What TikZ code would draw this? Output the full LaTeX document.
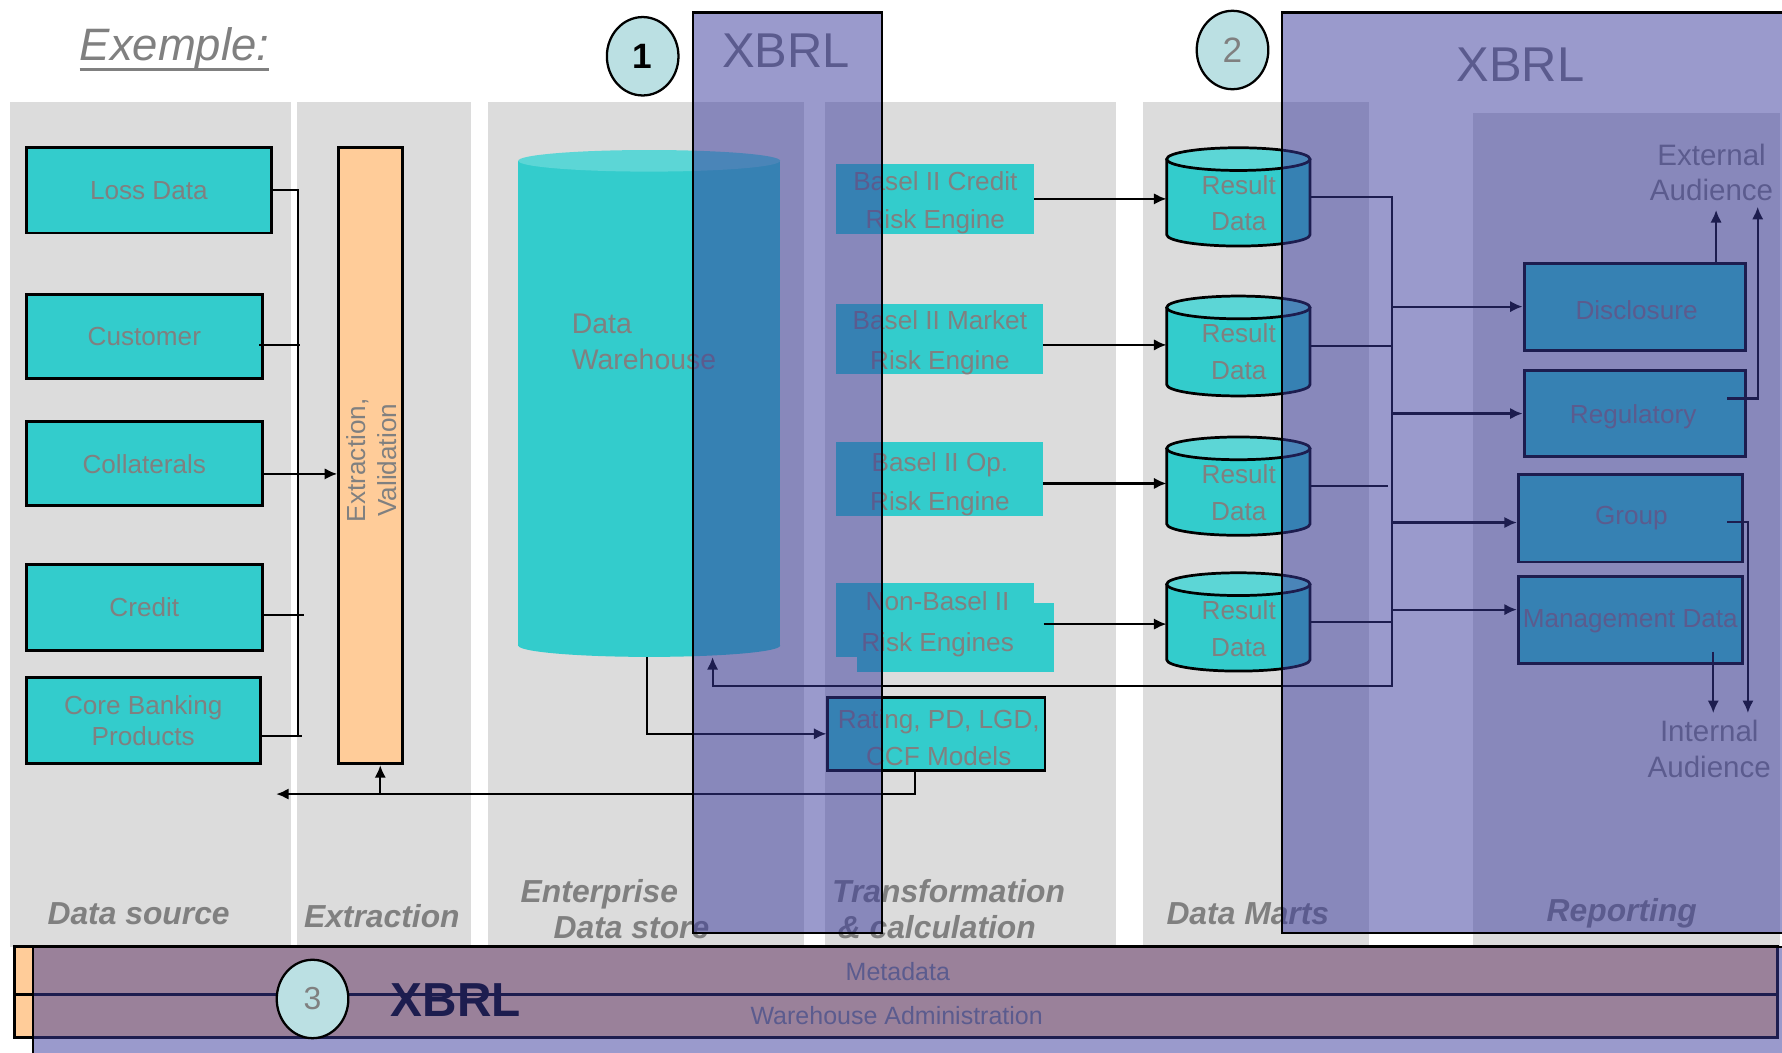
\documentclass[tikz,border=0pt]{standalone}
\usepackage{fontspec}
\setmainfont{Liberation Sans}
\usetikzlibrary{arrows.meta,shapes.geometric}

\definecolor{colbg}{RGB}{220,220,220}
\definecolor{cyanbox}{RGB}{51,204,204}
\definecolor{cyantop}{RGB}{92,214,214}
\definecolor{peach}{RGB}{255,204,153}
\definecolor{txtgray}{RGB}{128,128,128}
\definecolor{xbrlfill}{RGB}{57,57,156}
\definecolor{badgefill}{RGB}{187,224,227}

% result-data store: #1 name, #2 top, #3 bottom
\newcommand\resultdb[3]{%
  \path[fill=cyanbox] (1026.6,#2+10) rectangle (1152.7,#3-10);
  \path[fill=cyanbox] (1089.65,#3-10) ellipse [x radius=63.05, y radius=10];
  \draw[line width=2.4pt] (1026.6,#2+10) -- (1026.6,#3-10)
     arc [start angle=180, end angle=0, x radius=63.05, y radius=10] -- (1152.7,#2+10);
  \draw[line width=2.4pt, fill=cyantop] (1089.65,#2+10) ellipse [x radius=63.05, y radius=10];
  \node[minimum width=126.1pt, minimum height=#3-#2] (#1) at (1089.65,{(#2+#3)/2}) {};
  \node[txt, font=\fontsize{23}{32}\selectfont] at (1090,{#2+49}) {Result\\Data};
}

\begin{document}
\begin{tikzpicture}[x=1pt, y=-1pt,
  every node/.style={inner sep=0pt},
  txt/.style={text=txtgray, font=\fontsize{23}{33}\selectfont, align=center},
  srcbox/.style={draw=black, line width=2.6pt, fill=cyanbox, txt},
  engine/.style={fill=cyanbox, txt},
  connector/.style={line width=1.9pt},
  flow/.style={connector, -{Latex[length=11pt,width=10pt]}},
  collabel/.style={text=txtgray, font=\fontsize{28}{31}\selectfont\bfseries\itshape, align=left},
  xbrlzone/.style={fill=xbrlfill, fill opacity=0.51, draw=black, line width=2pt},
  xbrltag/.style={text=txtgray, font=\fontsize{43}{43}\selectfont},
  badge/.style={ellipse, draw=black, line width=2pt, fill=badgefill, minimum width=63pt, minimum height=69pt},
]
\useasboundingbox (0,0) rectangle (1568,926);
\clip (0,0) rectangle (1568,926);
\fill[white] (0,0) rectangle (1568,926);

% title
\node[anchor=base west, text=txtgray, font=\fontsize{40}{40}\selectfont\itshape] (title) at (70,53) {Exemple:};
\draw[txtgray, line width=2.5pt] (70,61) -- (237,61);

% column backgrounds
\fill[colbg] (9,89.5) rectangle (256,833);
\fill[colbg] (261,89.5) rectangle (414,833);
\fill[colbg] (429,89.5) rectangle (707,833);
\fill[colbg] (726,89.5) rectangle (982,833);
\fill[colbg] (1006,89.5) rectangle (1205,833);
\fill[colbg] (1296,99.5) rectangle (1566,833);

% column captions
\node[collabel] (capsrc) at (122,804) {Data source};
\node[collabel] (capext) at (336,806) {Extraction};
\node[collabel, anchor=west] (capeds) at (458,800) {Enterprise\\\hspace*{29pt}Data store};
\node[collabel, anchor=west] (captrf) at (732,800) {Transformation\\\hspace*{5pt}\& calculation};
\node[collabel] (capdm) at (1098,804) {Data Marts};
\node[collabel] (caprep) at (1427,804) {Reporting};

% data sources
\node[srcbox, minimum width=216pt, minimum height=75pt] (loss) at (131,167.5) {Loss Data};
\node[srcbox, minimum width=208pt, minimum height=74pt] (cust) at (127,296) {Customer};
\node[srcbox, minimum width=208pt, minimum height=74pt] (coll) at (127,408) {Collaterals};
\node[srcbox, minimum width=208pt, minimum height=75pt] (cred) at (127,534.5) {Credit};
\node[srcbox, minimum width=206pt, minimum height=76pt, font=\fontsize{23}{27}\selectfont] (core) at (126,634) {Core Banking\\Products};

% extraction
\node[draw, line width=2.6pt, fill=peach, minimum width=56pt, minimum height=542pt] (extr) at (326,401) {};
\node[txt, rotate=90, font=\fontsize{23}{27}\selectfont] (extrtxt) at (327,405) {Extraction,\\Validation};

% source bus
\coordinate (lbus) at (262.5,647.6);
\draw[connector] (loss.east) -| (lbus) -- ++(3.5,0);
\draw[connector] ([yshift=-13.6pt]core.east) -- (lbus);
\draw[connector] ([xshift=-4pt,yshift=-7.6pt]cust.east) -- ++(35.5,0);
\draw[connector] ([yshift=-6.5pt]cred.east) -- ++(35,0);
\coordinate (collout) at ([yshift=-9pt]coll.east);
\draw[flow] (collout) -- (collout -| extr.west);

% data warehouse
\fill[cyanbox] (456,141.5) rectangle (686.5,568);
\fill[cyanbox] (571.25,568) ellipse [x radius=115.25, y radius=10];
\fill[cyantop] (571.25,141.5) ellipse [x radius=115.25, y radius=9.5];
\node[minimum width=230.5pt, minimum height=446.5pt] (dw) at (571.25,354.75) {};
\node[txt, align=left, anchor=west, font=\fontsize{25}{32}\selectfont] (dwtxt) at (503,301) {Data\\Warehouse};

% risk engines
\node[engine, minimum width=174.4pt, minimum height=61pt] (ba1) at (822.8,175) {};
\node[txt] (ba1txt) at (823,178.5) {Basel II Credit\\Risk Engine};
\node[engine, minimum width=182pt, minimum height=62pt] (ba2) at (826.5,298.5) {};
\node[txt, font=\fontsize{23}{35}\selectfont] (ba2txt) at (827,301.5) {Basel II Market\\Risk Engine};
\node[engine, minimum width=182pt, minimum height=65pt] (ba3) at (826.5,421.4) {};
\node[txt, font=\fontsize{23}{34}\selectfont] (ba3txt) at (827,426) {Basel II Op.\\Risk Engine};
\fill[cyanbox] (735.6,513) rectangle (910,578);
\node[engine, minimum width=173.5pt, minimum height=61.1pt] (ba4) at (840.75,561.15) {};
\node[txt, font=\fontsize{23}{36}\selectfont] (ba4txt) at (825,549.5) {Non-Basel II\\Risk Engines};

\node[srcbox, minimum width=191pt, minimum height=64.5pt] (rate) at (824,645.7) {};
\node[txt] (ratetxt) at (826,649) {Rating, PD, LGD,\\CCF Models};

% data marts
\resultdb{rd1}{130}{216.5}
\resultdb{rd2}{260.5}{348.4}
\resultdb{rd3}{384.5}{471}
\resultdb{rd4}{504}{590.5}

\draw[flow] (ba1.east) -- (ba1.east -| rd1.west);
\coordinate (ba2out) at ([yshift=-5pt]ba2.east);
\draw[flow] (ba2out) -- (ba2out -| rd2.west);
\coordinate (ba3out) at ([yshift=-4pt]ba3.east);
\draw[flow] (ba3out) -- (ba3out -| rd3.west);
\coordinate (ba4out) at ([xshift=-9.5pt,yshift=12pt]ba4.east);
\draw[flow] (ba4out) -- (ba4out -| rd4.west);

% reporting
\node[srcbox, minimum width=195pt, minimum height=76.4pt] (disc) at (1438.5,269.8) {};
\node[txt] (disctxt) at (1440,273) {Disclosure};
\node[srcbox, minimum width=195pt, minimum height=76.2pt] (regu) at (1438.5,363.9) {};
\node[txt] (regutxt) at (1437,367) {Regulatory};
\node[srcbox, minimum width=197pt, minimum height=76.8pt] (grp) at (1434.5,456.1) {};
\node[txt] (grptxt) at (1435.5,456) {Group};
\node[srcbox, minimum width=197pt, minimum height=76.2pt] (mgmt) at (1434.5,545.6) {};
\node[txt] (mgmttxt) at (1434.5,547) {Management Data};

\coordinate (rbus) at (1224.5,603.6);
\coordinate (dwin) at ([xshift=55.75pt]dw.south);
\draw[flow] (rd1.east) -| (rbus) -| (dwin);
\draw[connector] (rd2.east) -- (rd2.east -| rbus);
\coordinate (rd3end) at (rd3.east -| rbus);
\draw[connector] (rd3.east) -- ([xshift=-3.5pt]rd3end);
\draw[connector] (rd4.east) -- (rd4.east -| rbus);

\draw[flow] (disc.west -| rbus) -- (disc.west);
\draw[flow] (regu.west -| rbus) -- (regu.west);
\coordinate (grpin) at ([yshift=-3.7pt]grp.west);
\draw[flow] (grpin -| rbus) -- (grpin);
\coordinate (mgin) at ([yshift=9.2pt]mgmt.west);
\draw[flow] (mgin -| rbus) -- (mgin);

% audiences
\coordinate (ext1) at (1510,184.8);
\draw[flow] (disc.north -| ext1) -- (ext1);
\coordinate (ext2) at (1546.6,182);
\coordinate (regout) at ([xshift=81.1pt,yshift=13.3pt]regu.center);
\draw[flow] (regout) -| (ext2);
\coordinate (int2) at (1538,627.4);
\coordinate (grpout) at ([xshift=85.1pt,yshift=-2.9pt]grp.center);
\draw[flow] (grpout) -| (int2);
\coordinate (int1) at (1507.5,627.4);
\coordinate (mgout) at ([xshift=73pt,yshift=-27.8pt]mgmt.center);
\draw[flow] (mgout) -- (int1);
\node[txt, font=\fontsize{26}{30.5}\selectfont] (extaud) at (1506,152) {External\\Audience};
\node[txt, font=\fontsize{26}{32}\selectfont] (intaud) at (1504,659) {Internal\\Audience};

% feedback paths
\coordinate (fbend) at (243,698.7);
\draw[flow] ([xshift=-19pt]rate.south) |- (fbend);
\coordinate (extrin) at ([xshift=8.6pt]extr.south);
\draw[flow] (extrin |- fbend) -- (extrin);
\draw[flow] ([xshift=-2.25pt]dw.south) |- (rate.west);

% metadata and administration band
\node[draw, line width=2.5pt, fill=peach, minimum width=1551pt, minimum height=42pt] (meta) at (788.5,854) {};
\node[draw, line width=2.5pt, fill=peach, minimum width=1551pt, minimum height=38pt] (admin) at (788.5,894) {};
\node[txt, font=\fontsize{22}{22}\selectfont] (metatxt) at (790,855) {Metadata};
\node[txt, font=\fontsize{22}{22}\selectfont] (admintxt) at (789,894) {Warehouse Administration};

% XBRL zones
\node[xbrltag] (x1) at (691.5,44.5) {XBRL};
\node[xbrltag] (x2) at (1338,56.5) {XBRL};
\node[font=\fontsize{42}{42}\selectfont\bfseries] (x3) at (401,880) {XBRL};
\draw[xbrlzone] (610,11) rectangle (776,821);
\draw[xbrlzone] (1128,11) rectangle (1600,821);
\draw[xbrlzone] (29,833) rectangle (1600,960);

\node[badge, font=\fontsize{31}{31}\selectfont\bfseries] (b1) at (565.5,49.5) {1};
\node[badge, text=txtgray, font=\fontsize{31}{31}\selectfont] (b2) at (1084.5,44) {2};
\node[badge, text=txtgray, font=\fontsize{28}{28}\selectfont] (b3) at (275,879) {3};
\end{tikzpicture}
\end{document}
